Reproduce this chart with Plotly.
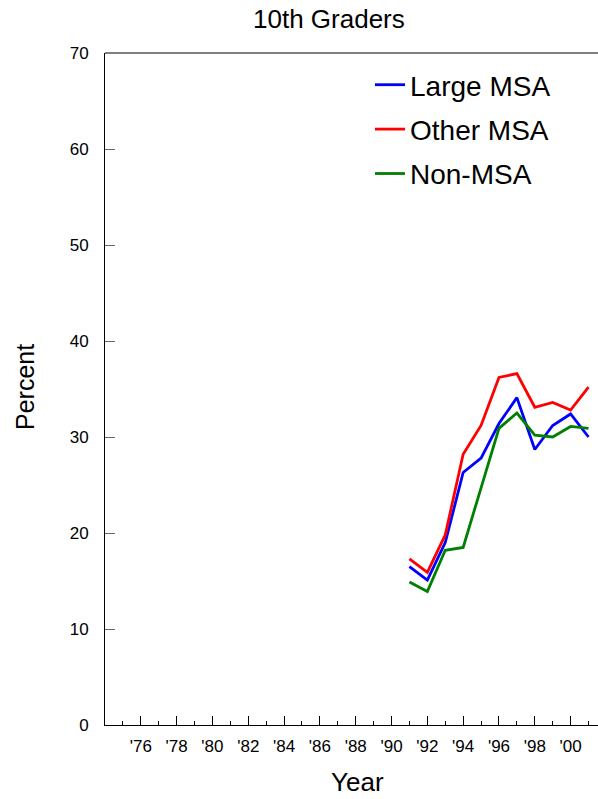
import plotly.graph_objects as go

years = [1991, 1992, 1993, 1994, 1995, 1996, 1997, 1998, 1999, 2000, 2001]
large_msa = [16.5, 15.1, 19.0, 26.3, 27.8, 31.4, 34.1, 28.7, 31.2, 32.4, 30.0]
other_msa = [17.3, 15.9, 19.8, 28.2, 31.2, 36.2, 36.6, 33.1, 33.6, 32.8, 35.2]
non_msa = [14.9, 13.9, 18.2, 18.5, 24.7, 30.9, 32.5, 30.2, 30.0, 31.1, 30.9]

x_tick_vals = [1976, 1978, 1980, 1982, 1984, 1986, 1988, 1990, 1992, 1994, 1996, 1998, 2000]
x_tick_text = ["'76", "'78", "'80", "'82", "'84", "'86", "'88", "'90", "'92", "'94", "'96", "'98", "'00"]
y_tick_vals = [0, 10, 20, 30, 40, 50, 60, 70]

series = [
    ("Large MSA", large_msa, "#0000FF"),
    ("Other MSA", other_msa, "#FF0000"),
    ("Non-MSA", non_msa, "#008000"),
]

FONT = "Liberation Sans, Arial, sans-serif"

W, H = 598, 799
L, T = 105, 53
B = 799 - 725
PW, PH = W - L, H - T - B


def px_to_paper_x(px):
    return (px - L) / PW


def px_to_paper_y(py):
    return (H - B - py) / PH


fig = go.Figure()
for i, (name, vals, color) in enumerate(series):
    fig.add_trace(go.Scatter(
        x=years, y=vals, mode="lines", name=name,
        line=dict(color=color, width=2.8),
        legendgroup=f"g{i}",
    ))

fig.update_layout(
    width=W, height=H,
    margin=dict(l=L, r=0, t=T, b=B, pad=0),
    paper_bgcolor="white", plot_bgcolor="white",
    font=dict(family=FONT, color="black"),
    title=dict(text="10th Graders", x=253 / W, xref="container", xanchor="left",
               y=1 - 19 / H, yanchor="middle", yref="container",
               font=dict(size=26, family=FONT)),
    showlegend=True,
    legend=dict(x=px_to_paper_x(370), y=px_to_paper_y(60), xanchor="left", yanchor="top",
                font=dict(size=28, family=FONT), bgcolor="rgba(0,0,0,0)",
                tracegroupgap=5, itemwidth=30),
    xaxis=dict(
        range=[1974, 2001.53], showgrid=False, zeroline=False,
        showline=True, linecolor="black", linewidth=1,
        tickmode="array", tickvals=x_tick_vals, ticktext=x_tick_text,
        ticks="inside", ticklen=9, tickcolor="black", tickwidth=1,
        tickfont=dict(size=17, family=FONT),
        minor=dict(ticks="inside", ticklen=4, tickcolor="black", dtick=1, tick0=1975),
        ticklabelstandoff=6,
    ),
    yaxis=dict(
        range=[0, 70], showgrid=False, zeroline=False,
        showline=True, linecolor="black", linewidth=1,
        tickmode="array", tickvals=y_tick_vals,
        ticks="inside", ticklen=10, tickcolor="#666", tickwidth=1,
        tickfont=dict(size=17, family=FONT),
        ticklabelstandoff=12,
    ),
    shapes=[dict(type="line", xref="paper", yref="paper", x0=0, x1=1, y0=1, y1=1,
                 line=dict(color="black", width=1))],
    annotations=[
        dict(text="Year", xref="paper", yref="paper", x=px_to_paper_x(357), y=px_to_paper_y(782),
             xanchor="center", yanchor="middle", showarrow=False, font=dict(size=26, family=FONT)),
        dict(text="Percent", xref="paper", yref="paper", x=px_to_paper_x(25), y=px_to_paper_y(387),
             xanchor="center", yanchor="middle", textangle=-90, showarrow=False,
             font=dict(size=25, family=FONT)),
    ],
)

fig.write_html(
    "out.html",
    config={"displayModeBar": False},
    post_script="document.body.style.margin='0';document.body.style.overflow='hidden';",
)
